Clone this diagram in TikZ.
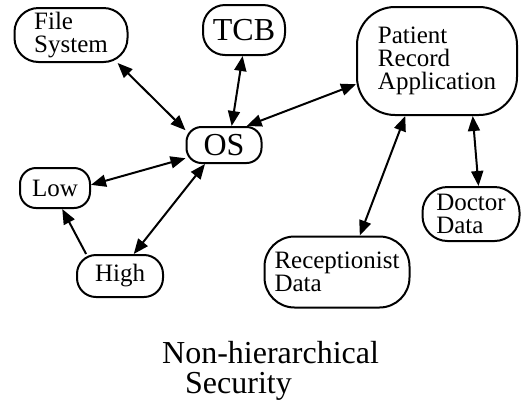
\documentclass[tikz,border=0pt]{standalone}
\usepackage{fontspec}
\setmainfont{Liberation Serif}
\usetikzlibrary{arrows.meta}
\tikzstyle{blob} = [rectangle, draw, line width=2pt, align=left, inner sep=0pt, font=\fontsize{25}{23}\selectfont]
\tikzstyle{bigblob} = [blob, font=\fontsize{32}{31}\selectfont]
\tikzstyle{arrow} = [line width=2pt, <->, >={Triangle[length=15pt,width=12pt]}]
\tikzstyle{onearrow} = [line width=2pt, ->, >={Triangle[length=15pt,width=12pt]}]

\begin{document}
\begin{tikzpicture}[x=1pt,y=-1pt]
    \useasboundingbox (0,0) rectangle (521,400);
    \node [blob, minimum width=113pt, minimum height=54pt, rounded corners=24pt] at (71,35) (fs) {File\\System};
    \node [bigblob, minimum width=82pt, minimum height=50pt, rounded corners=22pt] at (244,30) (tcb) {TCB};
    \node [blob, minimum width=160pt, minimum height=108pt, rounded corners=38pt] at (437,61) (pra) {Patient\\Record\\Application};
    \node [bigblob, minimum width=75pt, minimum height=36pt, rounded corners=15pt] at (224,145) (os) {OS};
    \node [blob, minimum width=70pt, minimum height=40pt, rounded corners=16pt] at (55,188) (low) {Low};
    \node [blob, minimum width=86pt, minimum height=42pt, rounded corners=19pt] at (120,276) (high) {High};
    \node [blob, minimum width=145pt, minimum height=71pt, rounded corners=30pt] at (337,272) (rec) {Receptionist\\Data};
    \node [blob, minimum width=97pt, minimum height=54pt, rounded corners=25pt] at (471,214) (doc) {Doctor\\Data};
    \node [align=left, inner sep=0pt, anchor=north west, font=\fontsize{32}{30}\selectfont] at (162,341) (caption) {Non-hierarchical\\\hspace*{23pt}Security};
    % links
    \draw [arrow] (fs.-31) -- (os.159);
    \draw [arrow] (tcb.-93) -- (os.68);
    \draw [arrow] (os.40) -- (pra.196);
    \draw [arrow] (low.5) -- (os.199);
    \draw [arrow] (high.58) -- (os.225);
    \draw [onearrow] (high.147) -- (low.-71);
    \draw [arrow] (pra.240) -- (rec.58);
    \draw [arrow] (pra.-57) -- (doc.75);
\end{tikzpicture}
\end{document}
